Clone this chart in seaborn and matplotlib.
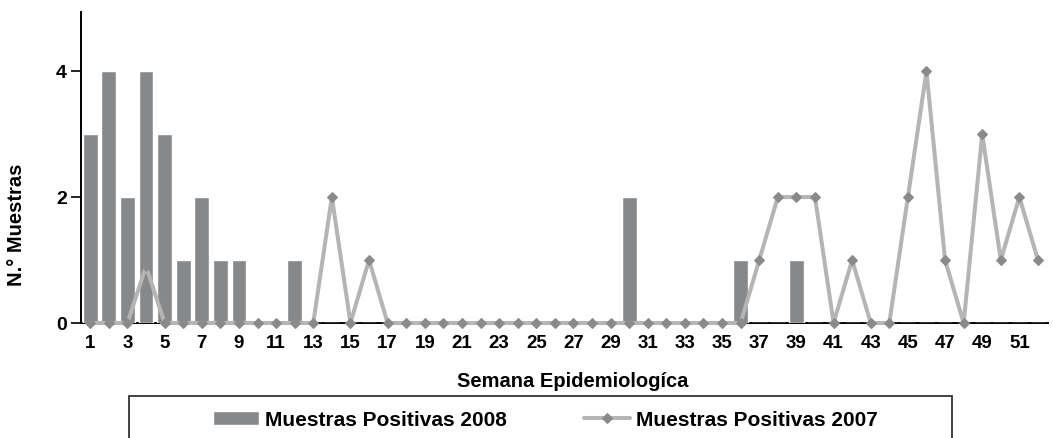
import numpy as np
import pandas as pd
import matplotlib
matplotlib.use("Agg")
import matplotlib.pyplot as plt
from matplotlib.patches import Rectangle
import seaborn as sns

# ---- data ----
weeks = list(range(1, 53))
pos_2008 = [3, 4, 2, 4, 3, 1, 2, 1, 1, 0, 0, 1, 0, 0, 0, 0, 0, 0, 0, 0,
            0, 0, 0, 0, 0, 0, 0, 0, 0, 2, 0, 0, 0, 0, 0, 1, 0, 0, 1, 0,
            0, 0, 0, 0, 0, 0, 0, 0, 0, 0, 0, 0]
pos_2007 = [0, 0, 0, 0.9, 0, 0, 0, 0, 0, 0, 0, 0, 0, 2, 0, 1, 0, 0, 0, 0,
            0, 0, 0, 0, 0, 0, 0, 0, 0, 0, 0, 0, 0, 0, 0, 0, 1, 2, 2, 2,
            0, 1, 0, 0, 2, 4, 1, 0, 3, 1, 2, 1]
tick_weeks = list(range(1, 53, 2))
yticks = [0, 2, 4]
label_2008 = "Muestras Positivas 2008"
label_2007 = "Muestras Positivas 2007"
xlabel = "Semana Epidemiologíca"
ylabel = "N.° Muestras"

df = pd.DataFrame({"semana": weeks, "p2008": pos_2008, "p2007": pos_2007})

sns.set_style("white")
plt.rcParams["font.family"] = ["Liberation Sans", "DejaVu Sans"]
plt.rcParams["font.weight"] = "bold"
plt.rcParams["text.color"] = "black"
plt.rcParams["axes.labelcolor"] = "black"
plt.rcParams["xtick.color"] = "black"
plt.rcParams["ytick.color"] = "black"

W, H = 1053, 438
fig = plt.figure(figsize=(W / 100, H / 100), dpi=100)
ax = fig.add_axes([81 / W, 1 - 323 / H, (1048 - 81) / W, (323 - 12) / H])

bar_color = "#87888a"
line_color = "#b5b5b5"
marker_color = "#8a8a8a"

sns.barplot(data=df, x="semana", y="p2008", native_scale=True, color=bar_color,
            width=0.8, saturation=1, ax=ax, label=label_2008, zorder=2)
sns.lineplot(data=df, x="semana", y="p2007", color=line_color, linewidth=2.9,
             marker="D", markersize=5, markerfacecolor=marker_color,
             markeredgecolor=marker_color, ax=ax, label=label_2007, legend=False,
             zorder=4, clip_on=False)

ax.set_xlim(0.57, 52.54)
ax.set_ylim(0, 4.94)

for s in ["top", "right"]:
    ax.spines[s].set_visible(False)
for s in ["left", "bottom"]:
    ax.spines[s].set_color("black")
    ax.spines[s].set_linewidth(1.4)
    ax.spines[s].set_zorder(1)

ax.set_xticks(tick_weeks)
ax.set_xticklabels([str(w) for w in tick_weeks], fontsize=13.5, fontweight="bold")
ax.set_xticks(np.arange(0.5, 53, 1.0), minor=True)
ax.tick_params(axis="x", which="major", length=0, pad=9)
ax.tick_params(axis="x", which="minor", length=6, width=1, color="black", direction="out")
ax.set_yticks(yticks)
ax.set_yticklabels([str(v) for v in yticks], fontsize=14, fontweight="bold")
ax.tick_params(axis="y", which="major", length=7, width=1.2, color="black",
               direction="out", pad=3, left=True)

ax.set_xlabel(xlabel, fontsize=14.5, fontweight="bold", va="top")
ax.xaxis.set_label_coords(0.508, (323 - 372) / 311)
ax.set_ylabel(ylabel, fontsize=14.5, fontweight="bold", va="center")
ax.yaxis.set_label_coords((17 - 81) / 967, (323 - 225) / 311)

leg = ax.get_legend()
if leg is not None:
    leg.remove()
handles, labels = ax.get_legend_handles_labels()
lookup = dict(zip(labels, handles))
order = [label_2008, label_2007]
fig.legend([lookup[l] for l in order], order, loc="center left",
           bbox_to_anchor=(213 / W, 1 - 420 / H), ncol=2, frameon=False,
           prop={"size": 15, "weight": "bold"}, borderpad=0, borderaxespad=0,
           handlelength=2.2, handleheight=0.65, handletextpad=0.3,
           columnspacing=3.7)

fig.add_artist(Rectangle((129 / W, -0.1), (952 - 129) / W, (1 - 396 / H) + 0.1,
                         transform=fig.transFigure, fill=False,
                         edgecolor="#333333", linewidth=1.3))

fig.savefig("out.png", dpi=100)
